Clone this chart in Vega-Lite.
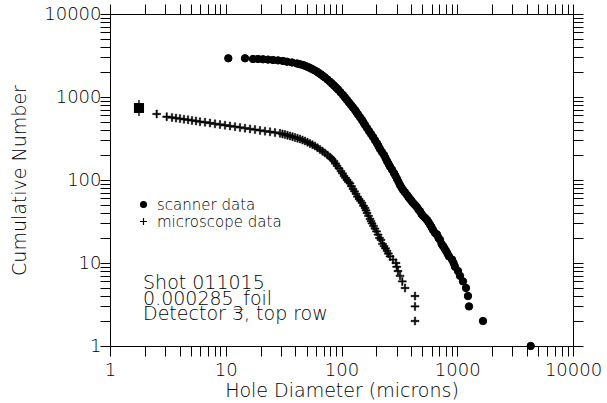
{
  "$schema": "https://vega.github.io/schema/vega-lite/v6.json",
  "width": 463,
  "height": 332,
  "autosize": "none",
  "padding": {"left": 110, "top": 14, "right": 34, "bottom": 57},
  "background": "white",
  "config": {
    "view": {"stroke": null},
    "font": "DejaVu Sans",
    "axis": {
      "domainColor": "black",
      "domainWidth": 1,
      "tickColor": "black",
      "tickWidth": 1,
      "tickSize": 10,
      "grid": false,
      "labelFont": "DejaVu Sans",
      "labelFontSize": 18,
      "labelColor": "black",
      "labelFontWeight": 200,
      "titleFont": "DejaVu Sans",
      "titleFontSize": 19,
      "titleFontWeight": 200,
      "titleColor": "black"
    }
  },
  "datasets": {
    "pts": [
      {"series": "scanner data", "d": 10.52, "n": 2927},
      {"series": "scanner data", "d": 14.67, "n": 2927},
      {"series": "scanner data", "d": 17.2, "n": 2870},
      {"series": "scanner data", "d": 19.0, "n": 2870},
      {"series": "scanner data", "d": 20.98, "n": 2846},
      {"series": "scanner data", "d": 23.17, "n": 2822},
      {"series": "scanner data", "d": 25.6, "n": 2791},
      {"series": "scanner data", "d": 28.28, "n": 2761},
      {"series": "scanner data", "d": 31.23, "n": 2715},
      {"series": "scanner data", "d": 33.82, "n": 2663},
      {"series": "scanner data", "d": 37.36, "n": 2605},
      {"series": "scanner data", "d": 41.27, "n": 2534},
      {"series": "scanner data", "d": 43.8, "n": 2481},
      {"series": "scanner data", "d": 46.49, "n": 2430},
      {"series": "scanner data", "d": 48.86, "n": 2363},
      {"series": "scanner data", "d": 51.35, "n": 2298},
      {"series": "scanner data", "d": 53.44, "n": 2236},
      {"series": "scanner data", "d": 55.62, "n": 2175},
      {"series": "scanner data", "d": 58.45, "n": 2095},
      {"series": "scanner data", "d": 61.43, "n": 2017},
      {"series": "scanner data", "d": 63.93, "n": 1941},
      {"series": "scanner data", "d": 66.53, "n": 1867},
      {"series": "scanner data", "d": 69.23, "n": 1791},
      {"series": "scanner data", "d": 72.04, "n": 1718},
      {"series": "scanner data", "d": 75.7, "n": 1621},
      {"series": "scanner data", "d": 79.55, "n": 1529},
      {"series": "scanner data", "d": 82.78, "n": 1450},
      {"series": "scanner data", "d": 86.14, "n": 1376},
      {"series": "scanner data", "d": 89.64, "n": 1301},
      {"series": "scanner data", "d": 93.28, "n": 1231},
      {"series": "scanner data", "d": 98.02, "n": 1141},
      {"series": "scanner data", "d": 103.0, "n": 1057},
      {"series": "scanner data", "d": 107.2, "n": 986},
      {"series": "scanner data", "d": 111.6, "n": 920},
      {"series": "scanner data", "d": 116.1, "n": 858},
      {"series": "scanner data", "d": 120.8, "n": 801},
      {"series": "scanner data", "d": 125.7, "n": 747},
      {"series": "scanner data", "d": 130.8, "n": 697},
      {"series": "scanner data", "d": 134.8, "n": 655},
      {"series": "scanner data", "d": 138.9, "n": 616},
      {"series": "scanner data", "d": 144.5, "n": 570},
      {"series": "scanner data", "d": 150.4, "n": 528},
      {"series": "scanner data", "d": 154.9, "n": 493},
      {"series": "scanner data", "d": 159.6, "n": 460},
      {"series": "scanner data", "d": 166.1, "n": 423},
      {"series": "scanner data", "d": 172.8, "n": 389},
      {"series": "scanner data", "d": 179.9, "n": 358},
      {"series": "scanner data", "d": 187.2, "n": 330},
      {"series": "scanner data", "d": 194.7, "n": 302},
      {"series": "scanner data", "d": 202.6, "n": 277},
      {"series": "scanner data", "d": 208.8, "n": 256},
      {"series": "scanner data", "d": 215.1, "n": 236},
      {"series": "scanner data", "d": 223.8, "n": 217},
      {"series": "scanner data", "d": 232.9, "n": 200},
      {"series": "scanner data", "d": 240.0, "n": 184},
      {"series": "scanner data", "d": 247.3, "n": 169},
      {"series": "scanner data", "d": 254.7, "n": 157},
      {"series": "scanner data", "d": 262.4, "n": 145},
      {"series": "scanner data", "d": 273.1, "n": 133},
      {"series": "scanner data", "d": 284.2, "n": 121},
      {"series": "scanner data", "d": 292.8, "n": 112},
      {"series": "scanner data", "d": 301.7, "n": 103},
      {"series": "scanner data", "d": 310.8, "n": 95},
      {"series": "scanner data", "d": 320.2, "n": 87},
      {"series": "scanner data", "d": 329.9, "n": 81},
      {"series": "scanner data", "d": 339.9, "n": 76},
      {"series": "scanner data", "d": 353.7, "n": 71},
      {"series": "scanner data", "d": 368.1, "n": 66},
      {"series": "scanner data", "d": 379.2, "n": 62},
      {"series": "scanner data", "d": 390.7, "n": 59},
      {"series": "scanner data", "d": 402.5, "n": 56},
      {"series": "scanner data", "d": 414.7, "n": 53},
      {"series": "scanner data", "d": 431.6, "n": 50},
      {"series": "scanner data", "d": 449.1, "n": 47},
      {"series": "scanner data", "d": 462.7, "n": 44},
      {"series": "scanner data", "d": 476.8, "n": 42},
      {"series": "scanner data", "d": 491.2, "n": 39},
      {"series": "scanner data", "d": 506.1, "n": 37},
      {"series": "scanner data", "d": 526.7, "n": 35},
      {"series": "scanner data", "d": 548.1, "n": 33},
      {"series": "scanner data", "d": 564.7, "n": 31},
      {"series": "scanner data", "d": 581.7, "n": 29},
      {"series": "scanner data", "d": 599.3, "n": 27},
      {"series": "scanner data", "d": 617.5, "n": 25},
      {"series": "scanner data", "d": 642.6, "n": 23},
      {"series": "scanner data", "d": 668.7, "n": 22},
      {"series": "scanner data", "d": 688.9, "n": 20},
      {"series": "scanner data", "d": 709.8, "n": 19},
      {"series": "scanner data", "d": 731.3, "n": 17},
      {"series": "scanner data", "d": 753.4, "n": 16},
      {"series": "scanner data", "d": 776.2, "n": 15},
      {"series": "scanner data", "d": 799.7, "n": 14},
      {"series": "scanner data", "d": 823.9, "n": 13},
      {"series": "scanner data", "d": 848.8, "n": 12},
      {"series": "scanner data", "d": 900.9, "n": 11},
      {"series": "scanner data", "d": 930, "n": 10},
      {"series": "scanner data", "d": 956.3, "n": 9},
      {"series": "scanner data", "d": 1015, "n": 8},
      {"series": "scanner data", "d": 1056, "n": 7},
      {"series": "scanner data", "d": 1121, "n": 6},
      {"series": "scanner data", "d": 1190, "n": 5},
      {"series": "scanner data", "d": 1238, "n": 4},
      {"series": "scanner data", "d": 1263, "n": 3},
      {"series": "scanner data", "d": 1669, "n": 2},
      {"series": "scanner data", "d": 4311, "n": 1},
      {"series": "microscope data", "d": 1.78, "n": 737},
      {"series": "microscope data", "d": 2.532, "n": 624},
      {"series": "microscope data", "d": 3.09, "n": 579},
      {"series": "microscope data", "d": 3.433, "n": 566},
      {"series": "microscope data", "d": 3.718, "n": 557},
      {"series": "microscope data", "d": 4.025, "n": 549},
      {"series": "microscope data", "d": 4.358, "n": 540},
      {"series": "microscope data", "d": 4.72, "n": 531},
      {"series": "microscope data", "d": 5.11, "n": 522},
      {"series": "microscope data", "d": 5.534, "n": 514},
      {"series": "microscope data", "d": 5.992, "n": 505},
      {"series": "microscope data", "d": 6.617, "n": 496},
      {"series": "microscope data", "d": 7.308, "n": 486},
      {"series": "microscope data", "d": 8.073, "n": 475},
      {"series": "microscope data", "d": 8.92, "n": 466},
      {"series": "microscope data", "d": 9.851, "n": 457},
      {"series": "microscope data", "d": 10.88, "n": 447},
      {"series": "microscope data", "d": 12.02, "n": 439},
      {"series": "microscope data", "d": 13.28, "n": 430},
      {"series": "microscope data", "d": 14.67, "n": 421},
      {"series": "microscope data", "d": 16.2, "n": 413},
      {"series": "microscope data", "d": 17.89, "n": 405},
      {"series": "microscope data", "d": 19.77, "n": 396},
      {"series": "microscope data", "d": 21.83, "n": 388},
      {"series": "microscope data", "d": 24.12, "n": 381},
      {"series": "microscope data", "d": 26.64, "n": 373},
      {"series": "microscope data", "d": 29.42, "n": 365},
      {"series": "microscope data", "d": 30.92, "n": 359},
      {"series": "microscope data", "d": 32.5, "n": 353},
      {"series": "microscope data", "d": 34.16, "n": 346},
      {"series": "microscope data", "d": 35.91, "n": 339},
      {"series": "microscope data", "d": 37.74, "n": 332},
      {"series": "microscope data", "d": 39.66, "n": 325},
      {"series": "microscope data", "d": 41.68, "n": 318},
      {"series": "microscope data", "d": 43.8, "n": 312},
      {"series": "microscope data", "d": 46.03, "n": 303},
      {"series": "microscope data", "d": 48.38, "n": 295},
      {"series": "microscope data", "d": 50.85, "n": 285},
      {"series": "microscope data", "d": 53.45, "n": 275},
      {"series": "microscope data", "d": 56.17, "n": 266},
      {"series": "microscope data", "d": 59.03, "n": 257},
      {"series": "microscope data", "d": 62.04, "n": 245},
      {"series": "microscope data", "d": 65.21, "n": 233},
      {"series": "microscope data", "d": 68.54, "n": 222},
      {"series": "microscope data", "d": 72.04, "n": 212},
      {"series": "microscope data", "d": 75.7, "n": 200},
      {"series": "microscope data", "d": 79.55, "n": 189},
      {"series": "microscope data", "d": 82.78, "n": 179},
      {"series": "microscope data", "d": 86.14, "n": 169},
      {"series": "microscope data", "d": 88.76, "n": 158},
      {"series": "microscope data", "d": 91.45, "n": 148},
      {"series": "microscope data", "d": 95.15, "n": 138},
      {"series": "microscope data", "d": 99.0, "n": 128},
      {"series": "microscope data", "d": 102.0, "n": 120},
      {"series": "microscope data", "d": 105.1, "n": 112},
      {"series": "microscope data", "d": 108.3, "n": 106},
      {"series": "microscope data", "d": 111.6, "n": 100},
      {"series": "microscope data", "d": 114.9, "n": 95},
      {"series": "microscope data", "d": 118.4, "n": 91},
      {"series": "microscope data", "d": 122.0, "n": 84},
      {"series": "microscope data", "d": 125.7, "n": 78},
      {"series": "microscope data", "d": 129.5, "n": 73},
      {"series": "microscope data", "d": 133.5, "n": 68},
      {"series": "microscope data", "d": 137.5, "n": 63},
      {"series": "microscope data", "d": 141.7, "n": 59},
      {"series": "microscope data", "d": 146.0, "n": 56},
      {"series": "microscope data", "d": 150.4, "n": 53},
      {"series": "microscope data", "d": 154.9, "n": 49},
      {"series": "microscope data", "d": 159.6, "n": 46},
      {"series": "microscope data", "d": 162.8, "n": 43},
      {"series": "microscope data", "d": 166.1, "n": 40},
      {"series": "microscope data", "d": 171.1, "n": 37},
      {"series": "microscope data", "d": 176.3, "n": 34},
      {"series": "microscope data", "d": 179.8, "n": 32},
      {"series": "microscope data", "d": 183.4, "n": 30},
      {"series": "microscope data", "d": 189.0, "n": 28},
      {"series": "microscope data", "d": 194.8, "n": 26},
      {"series": "microscope data", "d": 200.7, "n": 24},
      {"series": "microscope data", "d": 206.8, "n": 22},
      {"series": "microscope data", "d": 213, "n": 20},
      {"series": "microscope data", "d": 219.4, "n": 19},
      {"series": "microscope data", "d": 226, "n": 17},
      {"series": "microscope data", "d": 232.9, "n": 16},
      {"series": "microscope data", "d": 240, "n": 15},
      {"series": "microscope data", "d": 247.3, "n": 14},
      {"series": "microscope data", "d": 254, "n": 13},
      {"series": "microscope data", "d": 262.4, "n": 12},
      {"series": "microscope data", "d": 278.6, "n": 11},
      {"series": "microscope data", "d": 295.6, "n": 10},
      {"series": "microscope data", "d": 300, "n": 9},
      {"series": "microscope data", "d": 307.6, "n": 8},
      {"series": "microscope data", "d": 320.2, "n": 7},
      {"series": "microscope data", "d": 335, "n": 6},
      {"series": "microscope data", "d": 353.8, "n": 5},
      {"series": "microscope data", "d": 431.5, "n": 4},
      {"series": "microscope data", "d": 431.5, "n": 3},
      {"series": "microscope data", "d": 431.5, "n": 2}
    ],
    "note": [
      {"text": "Shot 011015\n0.000285_foil\nDetector 3, top row"}
    ]
  },
  "layer": [
    {
      "data": {"name": "pts"},
      "mark": {"type": "point", "filled": true, "color": "black", "stroke": "black", "opacity": 1},
      "encoding": {
        "x": {
          "field": "d", "type": "quantitative",
          "scale": {"type": "log", "domain": [1, 10000], "nice": false},
          "axis": {
            "orient": "bottom",
            "title": "Hole Diameter (microns)",
            "values": [1,2,3,4,5,6,7,8,9,10,20,30,40,50,60,70,80,90,100,200,300,400,500,600,700,800,900,1000,2000,3000,4000,5000,6000,7000,8000,9000,10000],
            "format": "d",
            "labelExpr": "abs(log(datum.value)/LN10 - round(log(datum.value)/LN10)) < 0.000001 ? datum.label : ''",
            "labelPadding": 5,
            "labelFlush": false,
            "labelOverlap": false,
            "titlePadding": 2,
            "encode": {"ticks": {"y2": {"value": {"expr": "abs(log(datum.value)/LN10 - round(log(datum.value)/LN10)) < 0.000001 ? 10 : 5"}}}}
          }
        },
        "y": {
          "field": "n", "type": "quantitative",
          "scale": {"type": "log", "domain": [1, 10000], "nice": false},
          "axis": {
            "orient": "left",
            "title": "Cumulative Number",
            "values": [1,2,3,4,5,6,7,8,9,10,20,30,40,50,60,70,80,90,100,200,300,400,500,600,700,800,900,1000,2000,3000,4000,5000,6000,7000,8000,9000,10000],
            "format": "d",
            "labelExpr": "abs(log(datum.value)/LN10 - round(log(datum.value)/LN10)) < 0.000001 ? datum.label : ''",
            "labelPadding": -1,
            "labelFlush": false,
            "labelOverlap": false,
            "titleAngle": -90,
            "titleX": -91,
            "titleY": 166,
            "titleAlign": "center",
            "titleBaseline": "middle",
            "encode": {"ticks": {"x2": {"value": {"expr": "abs(log(datum.value)/LN10 - round(log(datum.value)/LN10)) < 0.000001 ? -10 : -5"}}}}
          }
        },
        "shape": {
          "field": "series", "type": "nominal",
          "scale": {"domain": ["scanner data", "microscope data"], "range": ["circle", "M-1,-0.17H-0.17V-1H0.17V-0.17H1V0.17H0.17V1H-0.17V0.17H-1Z"]},
          "legend": {
            "title": null,
            "orient": "none",
            "legendX": 26,
            "legendY": 183,
            "padding": 0,
            "labelFont": "DejaVu Sans",
            "labelFontSize": 15,
            "labelFontWeight": 200,
            "labelColor": "black",
            "symbolSize": 50,
            "symbolFillColor": "black",
            "symbolStrokeColor": "black",
            "symbolStrokeWidth": 0.5,
            "symbolOpacity": 1,
            "rowPadding": 1,
            "labelOffset": 6
          }
        },
        "size": {"condition": {"test": "datum.series == 'scanner data'", "value": 55}, "value": 64},
        "strokeWidth": {"condition": {"test": "datum.series == 'scanner data'", "value": 1}, "value": 0.5}
      }
    },
    {
      "data": {"name": "pts"},
      "transform": [{"filter": "datum.series == 'microscope data' && datum.d < 2"}],
      "mark": {"type": "point", "shape": "M-0.55,-0.55H0.55V0.55H-0.55Z M0,-1V1", "filled": true, "color": "black", "stroke": "black", "strokeWidth": 1.3, "size": 256, "opacity": 1},
      "encoding": {
        "x": {"field": "d", "type": "quantitative", "scale": {"type": "log", "domain": [1, 10000], "nice": false}, "axis": null},
        "y": {"field": "n", "type": "quantitative", "scale": {"type": "log", "domain": [1, 10000], "nice": false}, "axis": null}
      }
    },
    {
      "data": {"name": "note"},
      "mark": {"type": "text", "align": "left", "baseline": "top", "font": "DejaVu Sans", "fontSize": 19, "fontWeight": 200, "lineHeight": 15.5, "lineBreak": "\n", "color": "black"},
      "encoding": {
        "x": {
          "datum": 1.93, "type": "quantitative",
          "scale": {"type": "log", "domain": [1, 10000], "nice": false},
          "axis": {
            "orient": "top",
            "title": null,
            "labels": false,
            "values": [1,2,3,4,5,6,7,8,9,10,20,30,40,50,60,70,80,90,100,200,300,400,500,600,700,800,900,1000,2000,3000,4000,5000,6000,7000,8000,9000,10000],
            "encode": {"ticks": {"y2": {"value": {"expr": "abs(log(datum.value)/LN10 - round(log(datum.value)/LN10)) < 0.000001 ? -10 : -5"}}}}
          }
        },
        "y": {
          "datum": 7.3, "type": "quantitative",
          "scale": {"type": "log", "domain": [1, 10000], "nice": false},
          "axis": {
            "orient": "right",
            "title": null,
            "labels": false,
            "values": [1,2,3,4,5,6,7,8,9,10,20,30,40,50,60,70,80,90,100,200,300,400,500,600,700,800,900,1000,2000,3000,4000,5000,6000,7000,8000,9000,10000],
            "encode": {"ticks": {"x2": {"value": {"expr": "abs(log(datum.value)/LN10 - round(log(datum.value)/LN10)) < 0.000001 ? 10 : 5"}}}}
          }
        },
        "text": {"field": "text"}
      }
    }
  ],
  "resolve": {"axis": {"x": "independent", "y": "independent"}}
}
